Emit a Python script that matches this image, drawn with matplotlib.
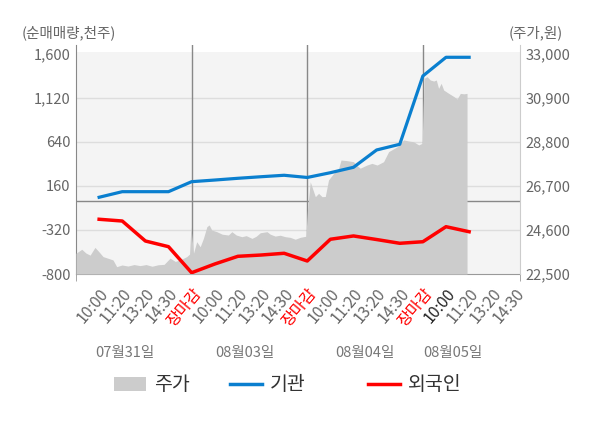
import matplotlib
matplotlib.use("Agg")
import matplotlib.pyplot as plt
from matplotlib.patches import Patch
from matplotlib.lines import Line2D
import numpy as np

plt.rcParams['font.family'] = ['Noto Sans CJK KR', 'DejaVu Sans']

# ---- data ----
dates = ["07월31일", "08월03일", "08월04일", "08월05일"]
date_pos = [2.1, 7.3, 12.5, 16.3]
tick_labels = ["10:00", "11:20", "13:20", "14:30", "장마감"] * 3 + ["10:00", "11:20", "13:20", "14:30"]
tick_pos = list(range(1, 20))

flow_x = list(range(1, 18))
inst = [37, 98, 98, 98, 207, 225, 244, 261, 277, 253, 305, 364, 553, 615, 1360, 1564, 1564]
foreign = [-203, -222, -440, -502, -786, -691, -607, -593, -574, -658,
           -421, -385, -424, -465, -448, -284, -339]

price_x = [0.00, 0.25, 0.43, 0.61, 0.82, 1.00, 1.17, 1.39, 1.60, 1.76, 1.99, 2.25, 2.51,
           2.77, 3.03, 3.29, 3.55, 3.81, 4.07, 4.29, 4.50, 4.79, 4.91,
           4.97, 5.08, 5.22, 5.37, 5.51, 5.66, 5.76, 5.87, 6.09, 6.32, 6.59, 6.74, 6.93,
           7.17, 7.36, 7.61, 7.79, 7.97, 8.26, 8.40, 8.61, 8.83, 9.05, 9.26, 9.48, 9.70,
           9.84, 9.94,
           10.01, 10.13, 10.25, 10.35, 10.49, 10.64, 10.78, 10.92, 11.14, 11.36, 11.46,
           11.72, 12.00, 12.12, 12.29, 12.58, 12.80, 13.02, 13.30, 13.52, 13.90, 14.17,
           14.37, 14.60, 14.82, 14.97,
           15.01, 15.06, 15.18, 15.32, 15.47, 15.58, 15.68, 15.79, 15.90, 16.12, 16.34,
           16.48, 16.62, 16.77, 16.91]
price = [23490, 23680, 23500, 23400, 23770, 23550, 23330, 23250, 23170, 22850, 22930, 22880, 22950,
         22900, 22950, 22870, 22940, 22960, 23260, 23100, 23170, 23330, 23450,
         24760, 23490, 24040, 23800, 24200, 24760, 24840, 24600, 24520, 24400, 24360, 24520, 24360,
         24280, 24330, 24200, 24300, 24470, 24520, 24400, 24310, 24350, 24280, 24250, 24160, 24250,
         24280, 24300,
         25550, 26900, 26510, 26190, 26350, 26190, 26200, 26990, 27300, 27550, 27940,
         27910, 27860, 27700, 27550, 27700, 27780, 27700, 27860, 28340, 28580, 28900,
         28850, 28810, 28660, 28740,
         30400, 31840, 31920, 31760, 31710, 31760, 31360, 31600, 31280, 31120, 30970,
         30850, 31120, 31100, 31120]

left_ticks = [-800, -320, 160, 640, 1120, 1600]
right_ticks = [22500, 24600, 26700, 28800, 30900, 33000]
legend_labels = ["주가", "기관", "외국인"]

# ---- figure ----
fig = plt.figure(figsize=(6.0, 4.28), dpi=100)
ax = fig.add_axes([76/600, 1 - 274/428, 444/600, 229/428])
ax2 = ax.twinx()

ax.set_xlim(0, 19.2)
ax.set_ylim(-800, 1698)
ax2.set_ylim(22500, 33430)

ax.set_facecolor('white')
ax.axhspan(-800, 1620, color='#f4f4f4', zorder=0, lw=0)
for t in left_ticks[1:-1]:
    ax.axhline(t, color='#dddddd', lw=1.0, zorder=1)
ax.axhline(0, color='#888888', lw=1.0, zorder=3)
for b in [5, 10, 15]:
    ax.axvline(b, color='#888888', lw=1.0, zorder=3)

# price area on right axis
ax2.fill_between(price_x, price, 22500, color='#cccccc', lw=0, zorder=1)
ax2.set_zorder(ax.get_zorder() + 1)
ax2.patch.set_visible(False)

# flows on top
ax3 = ax.twinx()
ax3.set_ylim(ax.get_ylim())
ax3.set_zorder(ax2.get_zorder() + 1)
ax3.patch.set_visible(False)
ax3.plot(flow_x, inst, color='#0a7fcf', lw=2.3, zorder=5)
ax3.plot(flow_x, foreign, color='#ff0000', lw=2.5, zorder=5)
ax3.axis('off')

# axes styling
ax.set_yticks(left_ticks)
ax.set_yticklabels([f"{v:,}" for v in left_ticks])
ax2.set_yticks(right_ticks)
ax2.set_yticklabels([f"{v:,}" for v in right_ticks])
ax.tick_params(axis='y', length=0, labelsize=10.5, colors='#666666', pad=4)
ax2.tick_params(axis='y', length=0, labelsize=10.5, colors='#666666', pad=4)

ax.set_xticks(tick_pos)
ax.set_xticklabels(tick_labels, rotation=50, ha='right', va='top', rotation_mode='anchor')
ax.tick_params(axis='x', which='major', length=0, labelsize=11.5, colors='#666666', pad=8)
ax.set_xticks([0, 5, 10, 15, 19.2], minor=True)
ax.tick_params(axis='x', which='minor', length=5, color='#999999', direction='out')
for i, lbl in enumerate(ax.get_xticklabels()):
    if tick_labels[i] == "장마감":
        lbl.set_color('#ff0000')
    elif i == 15:
        lbl.set_color('#222222')

for a in (ax, ax2):
    a.spines['top'].set_visible(False)
ax.spines['left'].set_color('#888888')
ax.spines['bottom'].set_color('#999999')
ax.spines['right'].set_visible(False)
ax2.spines['left'].set_visible(False)
ax2.spines['bottom'].set_visible(False)
ax2.spines['right'].set_color('#cccccc')

# titles
fig.text(22/600, 1 - 33/428, "(순매매량,천주)", fontsize=10.5, color='#666666', va='center', ha='left')
fig.text(563/600, 1 - 33/428, "(주가,원)", fontsize=10.5, color='#666666', va='center', ha='right')

# date labels
for d, p in zip(dates, date_pos):
    ax.text(p, -(353 - 274) / 229, d, transform=ax.get_xaxis_transform(), fontsize=10.5,
            color='#777777', ha='center', va='center')

handles = [Patch(facecolor='#cccccc', edgecolor='none'),
           Line2D([0], [0], color='#0a7fcf', lw=2.5),
           Line2D([0], [0], color='#ff0000', lw=2.5)]
leg_x = [114, 230, 368]
for h, lab, lx in zip(handles, legend_labels, leg_x):
    fig.legend([h], [lab], loc='center left', bbox_to_anchor=(lx/600, 1 - 385/428),
               frameon=False, fontsize=14, borderpad=0, borderaxespad=0,
               handlelength=1.65, handletextpad=0.4, labelcolor='#333333')

fig.savefig("out.png", dpi=100)
